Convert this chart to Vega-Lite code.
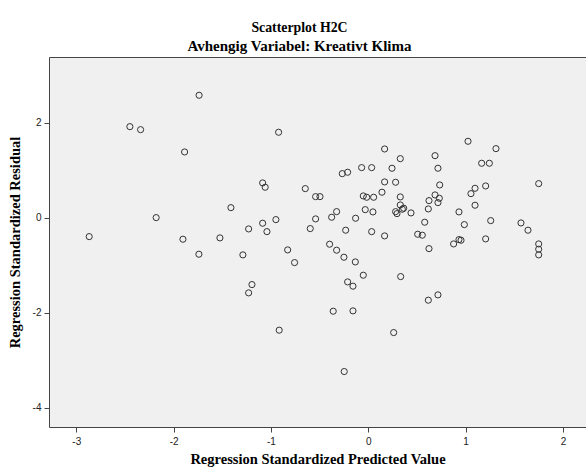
{
  "$schema": "https://vega.github.io/schema/vega-lite/v6.json",
  "autosize": {"type": "none"},
  "padding": {"left": 49, "top": 57, "right": 0, "bottom": 43},
  "width": 537,
  "height": 370,
  "background": "white",
  "title": {
    "text": "Scatterplot H2C",
    "subtitle": "Avhengig Variabel: Kreativt Klima",
    "font": "Liberation Serif",
    "fontSize": 13.8,
    "fontWeight": "bold",
    "color": "black",
    "subtitleFont": "Liberation Serif",
    "subtitleFontSize": 15,
    "subtitleFontWeight": "bold",
    "subtitleColor": "black",
    "subtitlePadding": 4,
    "anchor": "middle",
    "dx": -18,
    "offset": 3
  },
  "config": {
    "view": {"fill": "#f0f0f0", "stroke": "#444444", "strokeWidth": 1},
    "axis": {
      "grid": false,
      "domain": false,
      "tickColor": "#444444",
      "tickSize": 5,
      "labelFont": "Liberation Sans",
      "labelFontSize": 10,
      "labelColor": "#222222",
      "labelExpr": "toString(datum.value)",
      "titleFont": "Liberation Serif",
      "titleFontSize": 14.5,
      "titleFontWeight": "bold",
      "titleColor": "black"
    }
  },
  "data": {
    "values": [
      {"x": -1.738, "y": 2.577}, {"x": -2.449, "y": 1.916}, {"x": -2.339, "y": 1.853},
      {"x": -1.887, "y": 1.383}, {"x": -1.411, "y": 0.21}, {"x": -2.179, "y": 0.0},
      {"x": -2.867, "y": -0.4}, {"x": -1.904, "y": -0.455}, {"x": -1.74, "y": -0.771},
      {"x": -1.524, "y": -0.427}, {"x": -0.921, "y": 1.798}, {"x": 0.168, "y": 1.446},
      {"x": 0.329, "y": 1.242}, {"x": -0.068, "y": 1.053}, {"x": 0.035, "y": 1.053},
      {"x": 0.244, "y": 1.04}, {"x": -0.267, "y": 0.926}, {"x": -0.212, "y": 0.956},
      {"x": -1.085, "y": 0.731}, {"x": -1.059, "y": 0.64}, {"x": -0.647, "y": 0.611},
      {"x": 0.168, "y": 0.752}, {"x": 0.281, "y": 0.745}, {"x": -0.541, "y": 0.442},
      {"x": -0.496, "y": 0.442}, {"x": -0.051, "y": 0.457}, {"x": -0.016, "y": 0.429},
      {"x": 0.055, "y": 0.429}, {"x": 0.141, "y": 0.535}, {"x": 0.329, "y": 0.436},
      {"x": 0.329, "y": 0.267}, {"x": 0.364, "y": 0.198}, {"x": 0.35, "y": 0.177},
      {"x": 0.281, "y": 0.126}, {"x": 0.295, "y": 0.084}, {"x": 0.439, "y": 0.099},
      {"x": -0.031, "y": 0.168}, {"x": 0.048, "y": 0.12}, {"x": -0.325, "y": 0.126},
      {"x": -0.376, "y": 0.008}, {"x": -0.13, "y": -0.013}, {"x": -0.541, "y": -0.027},
      {"x": -0.949, "y": -0.042}, {"x": -1.085, "y": -0.118}, {"x": -1.229, "y": -0.238},
      {"x": -1.041, "y": -0.295}, {"x": -0.596, "y": -0.231}, {"x": -0.232, "y": -0.265},
      {"x": 0.035, "y": -0.295}, {"x": 0.168, "y": -0.385}, {"x": 0.508, "y": -0.35},
      {"x": -1.288, "y": -0.785}, {"x": -0.828, "y": -0.68}, {"x": -0.757, "y": -0.947},
      {"x": -0.397, "y": -0.56}, {"x": -0.325, "y": -0.686}, {"x": -0.25, "y": -0.834},
      {"x": -0.133, "y": -0.933}, {"x": -0.051, "y": -1.213}, {"x": -0.212, "y": -1.354},
      {"x": -0.157, "y": -1.444}, {"x": 0.333, "y": -1.242}, {"x": -1.195, "y": -1.41},
      {"x": -1.229, "y": -1.585}, {"x": -0.36, "y": -1.971}, {"x": -0.157, "y": -1.964},
      {"x": -0.915, "y": -2.371}, {"x": 0.261, "y": -2.421}, {"x": -0.247, "y": -3.242},
      {"x": 1.025, "y": 1.608}, {"x": 1.312, "y": 1.453}, {"x": 0.686, "y": 1.305},
      {"x": 1.165, "y": 1.145}, {"x": 1.244, "y": 1.145}, {"x": 0.716, "y": 1.04},
      {"x": 1.751, "y": 0.716}, {"x": 0.734, "y": 0.688}, {"x": 1.206, "y": 0.667},
      {"x": 1.097, "y": 0.618}, {"x": 1.055, "y": 0.505}, {"x": 0.686, "y": 0.478},
      {"x": 0.73, "y": 0.408}, {"x": 0.624, "y": 0.358}, {"x": 0.716, "y": 0.316},
      {"x": 1.097, "y": 0.261}, {"x": 0.617, "y": 0.183}, {"x": 0.932, "y": 0.12},
      {"x": 0.58, "y": -0.097}, {"x": 0.987, "y": -0.147}, {"x": 1.258, "y": -0.063},
      {"x": 1.569, "y": -0.112}, {"x": 1.641, "y": -0.265}, {"x": 0.555, "y": -0.37},
      {"x": 0.624, "y": -0.653}, {"x": 0.877, "y": -0.554}, {"x": 0.932, "y": -0.463},
      {"x": 0.953, "y": -0.476}, {"x": 1.206, "y": -0.448}, {"x": 1.751, "y": -0.554},
      {"x": 1.751, "y": -0.665}, {"x": 1.751, "y": -0.785}, {"x": 0.617, "y": -1.739},
      {"x": 0.716, "y": -1.627}
    ]
  },
  "mark": {"type": "point", "shape": "circle", "filled": false, "size": 38, "stroke": "#333333", "strokeWidth": 1, "opacity": 1},
  "encoding": {
    "x": {
      "field": "x", "type": "quantitative",
      "scale": {"domain": [-3.28, 2.237], "nice": false, "zero": false},
      "axis": {"values": [-3, -2, -1, 0, 1, 2], "title": "Regression Standardized Predicted Value", "titlePadding": 6, "labelPadding": 4}
    },
    "y": {
      "field": "y", "type": "quantitative",
      "scale": {"domain": [-4.41, 3.383], "nice": false, "zero": false},
      "axis": {"values": [-4, -2, 0, 2], "title": "Regression Standardized Residual", "titlePadding": 10, "labelPadding": 3}
    }
  }
}
